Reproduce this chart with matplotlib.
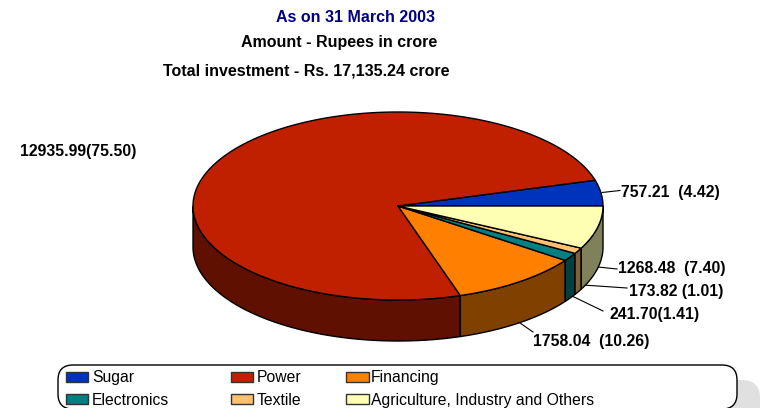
import numpy as np
import matplotlib
matplotlib.use("Agg")
import matplotlib.pyplot as plt
from matplotlib.patches import Polygon, FancyBboxPatch, Rectangle

plt.rcParams['font.family'] = ['Liberation Sans', 'DejaVu Sans']

categories = ["Sugar", "Power", "Financing", "Electronics", "Textile", "Agriculture, Industry and Others"]
amounts = [757.21, 12935.99, 1758.04, 241.70, 173.82, 1268.48]
shares = [4.42, 75.50, 10.26, 1.41, 1.01, 7.40]
top_colors = ["#0033BB", "#C02000", "#FF8000", "#008080", "#FFC070", "#FFFFB4"]
side_colors = ["#001A60", "#601000", "#804000", "#004040", "#806038", "#80805A"]
value_labels = ["757.21  (4.42)", "12935.99(75.50)", "1758.04  (10.26)", "241.70(1.41)", "173.82 (1.01)", "1268.48  (7.40)"]
label_xy = [(621, 192.5), (20, 151.5), (533, 341.5), (610, 314.5), (629, 291.5), (618, 268.5)]
leaders = [((602, 192.5), (620, 190.5)), None, ((520, 323), (533, 332)), ((572, 296), (603, 311)),
           ((583, 285), (627, 288)), ((598, 267), (617, 269))]
titles = ["As on 31 March 2003", "Amount - Rupees in crore", "Total investment - Rs. 17,135.24 crore"]
title_xy = [(355.5, 17.5), (339, 43), (306.5, 70.5)]
title_colors = ["#000080", "black", "black"]

CX, CY, RX, RY, DEPTH = 398, 206, 205, 94, 41

fig = plt.figure(figsize=(7.79, 4.08), dpi=100)
ax = fig.add_axes([0, 0, 1, 1])
ax.set_xlim(0, 779)
ax.set_ylim(408, 0)
ax.axis("off")


def rim(a0, a1, dy=0):
    t = np.radians(np.linspace(a0, a1, max(3, int(abs(a1 - a0) * 2))))
    return np.column_stack([CX + RX * np.cos(t), CY - RY * np.sin(t) + dy])


total = sum(shares)
edges = np.concatenate([[0], np.cumsum(shares) / total * 360])

# side walls (visible lower half only)
for i in range(len(shares)):
    a0, a1 = max(edges[i], 180), min(edges[i + 1], 360)
    if a1 > a0:
        pts = np.vstack([rim(a0, a1), rim(a0, a1, DEPTH)[::-1]])
        ax.add_patch(Polygon(pts, closed=True, fc=side_colors[i], ec="black", lw=1, zorder=2))

# top faces
for i in range(len(shares)):
    pts = np.vstack([[CX, CY], rim(edges[i], edges[i + 1])])
    ax.add_patch(Polygon(pts, closed=True, fc=top_colors[i], ec="black", lw=1, zorder=3, joinstyle="round"))

# labels and leader lines
for text, xy, lead in zip(value_labels, label_xy, leaders):
    ax.text(xy[0], xy[1], text, fontsize=11.3, fontweight="bold", ha="left", va="center", zorder=5)
    if lead:
        ax.plot(*zip(*lead), color="black", lw=0.8, zorder=1.5)

for text, xy, c in zip(titles, title_xy, title_colors):
    ax.text(xy[0], xy[1], text, fontsize=11.5, fontweight="bold", color=c, ha="center", va="center")

# legend with shadow, clipped by the lower image edge
ax.add_patch(FancyBboxPatch((90, 380), 670, 60, boxstyle="round,pad=0,rounding_size=18",
                            fc="#E0E0E0", ec="none", zorder=1))
ax.add_patch(FancyBboxPatch((58, 365), 679, 44, boxstyle="round,pad=0,rounding_size=15",
                            fc="white", ec="black", lw=1, zorder=1.2))
swatch_x = [66, 231, 346]
swatch_w = [22, 22, 23]
text_x = [92, 257, 371]
row_y = [372, 394]
baseline_y = [382, 405]
for i, name in enumerate(categories):
    r, c = i // 3, i % 3
    ax.add_patch(Rectangle((swatch_x[c], row_y[r]), swatch_w[c], 10, fc=top_colors[i], ec="#333333", lw=1, zorder=4))
    ax.text(text_x[c], baseline_y[r], name, fontsize=11.35, ha="left", va="baseline", zorder=4)

fig.savefig("out.png", dpi=100)
